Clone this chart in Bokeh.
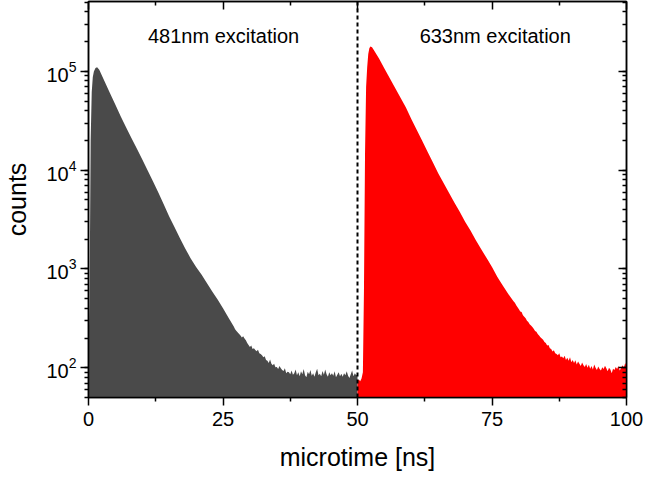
from bokeh.plotting import figure
from bokeh.models import (LinearAxis, LogAxis, FixedTicker, LogTicker, Span, Label,
                          CustomJSTickFormatter)
from bokeh.embed import file_html
from bokeh.resources import INLINE

# ---------------- data ----------------
black_time = [0.0, 0.2, 0.4, 0.6, 0.8, 1.0, 1.3, 1.6, 2.0,
              3, 4, 5, 6, 7, 8, 9, 10, 11, 12, 13, 14, 15, 16, 17, 18, 19, 20,
              21, 22, 23, 24, 25, 26, 27,
              27.25, 27.5, 27.75, 28.0, 28.25, 28.5, 28.75, 29.0, 29.25, 29.5, 29.75, 30.0,
              30.25, 30.5, 30.75, 31.0, 31.25, 31.5, 31.75, 32.0, 32.25, 32.5, 32.75, 33.0,
              33.25, 33.5, 33.75, 34.0, 34.25, 34.5, 34.75, 35.0, 35.25, 35.5, 35.75, 36.0,
              36.25, 36.5, 36.75, 37.0, 37.25, 37.5, 37.75, 38.0, 38.25, 38.5, 38.75, 39.0,
              39.25, 39.5, 39.75, 40.0, 40.25, 40.5, 40.75, 41.0, 41.25, 41.5, 41.75, 42.0,
              42.25, 42.5, 42.75, 43.0, 43.25, 43.5, 43.75, 44.0, 44.25, 44.5, 44.75, 45.0,
              45.25, 45.5, 45.75, 46.0, 46.25, 46.5, 46.75, 47.0, 47.25, 47.5, 47.75, 48.0,
              48.25, 48.5, 48.75, 49.0, 49.25, 49.5, 49.75, 50.0]
black_counts = [150, 500, 20000, 62000, 88000, 100000, 108000, 110000, 104000,
                79000, 60000, 46000, 35000, 27000, 21000, 16500, 12800, 9900, 7700, 5900,
                4500, 3400, 2650, 2050, 1600, 1280, 1050,
                880, 720, 590, 490, 400, 322, 262,
                245, 236, 228, 220, 212, 203, 208, 198, 190, 178, 170, 162,
                168, 155, 158, 151, 147, 152, 140, 138, 134, 128, 131, 120,
                118, 112, 121, 110, 106, 110, 101, 102, 97, 104, 99, 95,
                93, 99, 88, 91, 90, 86, 94, 85, 88, 96, 84, 90,
                82, 92, 86, 97, 84, 80, 91, 86, 95, 83, 88, 81,
                90, 98, 84, 87, 82, 93, 85, 96, 86, 81, 90, 84,
                88, 83, 92, 80, 85, 90, 82, 87, 81, 88, 84, 92,
                83, 79, 86, 94, 82, 88, 84, 86]

red_time = [50.0, 50.25, 50.5, 50.75, 51.0, 51.2, 51.4, 51.6, 51.8, 52.0, 52.2, 52.4, 52.7, 53.0,
            54, 55, 56, 57, 58, 59, 60, 61, 62, 63, 64, 65, 66, 67, 68, 69, 70,
            71, 72, 73, 74, 75, 76, 77, 78, 79,
            79.25, 79.5, 79.75, 80.0, 80.25, 80.5, 80.75, 81.0, 81.25, 81.5, 81.75, 82.0,
            82.25, 82.5, 82.75, 83.0, 83.25, 83.5, 83.75, 84.0, 84.25, 84.5, 84.75, 85.0,
            85.25, 85.5, 85.75, 86.0, 86.25, 86.5, 86.75, 87.0, 87.25, 87.5, 87.75, 88.0,
            88.25, 88.5, 88.75, 89.0, 89.25, 89.5, 89.75, 90.0, 90.25, 90.5, 90.75, 91.0,
            91.25, 91.5, 91.75, 92.0, 92.25, 92.5, 92.75, 93.0, 93.25, 93.5, 93.75, 94.0,
            94.25, 94.5, 94.75, 95.0, 95.25, 95.5, 95.75, 96.0, 96.25, 96.5, 96.75, 97.0,
            97.25, 97.5, 97.75, 98.0, 98.25, 98.5, 98.75, 99.0, 99.25, 99.5, 99.75, 100.0]
red_counts = [74, 76, 73, 78, 90, 600, 15000, 70000, 110000, 150000, 172000, 179000, 176000, 166000,
              135000, 107000, 85000, 68000, 54000, 43000, 33000, 25700, 20000, 15500, 12000,
              9300, 7400, 5900, 4700, 3800, 3000,
              2450, 1950, 1580, 1290, 1050, 830, 680, 560, 470,
              455, 430, 410, 390, 372, 366, 340, 328, 318, 300, 290, 275,
              268, 258, 248, 235, 232, 220, 212, 204, 198, 192, 182, 178,
              168, 170, 158, 155, 146, 150, 140, 138, 134, 140, 128, 130,
              125, 132, 120, 126, 118, 128, 114, 120, 112, 119, 108, 116,
              110, 104, 113, 106, 102, 109, 100, 107, 98, 104, 96, 108,
              100, 95, 103, 97, 94, 101, 97, 105, 99, 92, 100, 96,
              88, 98, 95, 102, 97, 104, 94, 100, 106, 99, 112, 104]

x_ticks = [0, 25, 50, 75, 100]
x_minor_ticks = [12.5, 37.5, 62.5, 87.5]
divider_at = 50
labels = ["481nm excitation", "633nm excitation"]
label_x = [25.1, 75.6]
label_y = 2.28e5

FONT = "Liberation Sans"

p = figure(width=646, height=478, x_range=(0, 100), y_range=(50, 5.1e5),
           y_axis_type="log", output_backend="svg", toolbar_location=None,
           min_border_left=88, min_border_right=20, min_border_top=1, min_border_bottom=81)
p.xgrid.visible = False
p.ygrid.visible = False
p.outline_line_color = "black"
p.outline_line_width = 1.5
p.background_fill_color = "white"

p.varea(x=black_time, y1=[1] * len(black_time), y2=black_counts, fill_color="#4a4a4a")
p.varea(x=red_time, y1=[1] * len(red_time), y2=red_counts, fill_color="#ff0000")

p.add_layout(Span(location=divider_at, dimension="height", line_color="black",
                  line_width=2, line_dash="4 3"))

for t, xx in zip(labels, label_x):
    p.add_layout(Label(x=xx, y=label_y, text=t, text_align="center", text_baseline="middle",
                       text_font=FONT, text_font_size="20px", text_color="black"))

xt = FixedTicker(ticks=x_ticks, minor_ticks=x_minor_ticks)


def style(ax, inward):
    ax.axis_line_color = "black"
    ax.axis_line_width = 1.5
    ax.major_tick_line_color = "black"
    ax.minor_tick_line_color = "black"
    ax.major_tick_line_width = 1.5
    ax.minor_tick_line_width = 1.5
    if inward:
        ax.major_tick_in, ax.major_tick_out = 8, 0
        ax.minor_tick_in, ax.minor_tick_out = 4, 0
    else:
        ax.major_tick_in, ax.major_tick_out = 0, 8
        ax.minor_tick_in, ax.minor_tick_out = 0, 4
    ax.major_label_text_font = FONT
    ax.major_label_text_font_size = "20px"
    ax.major_label_text_color = "black"
    ax.axis_label_text_font = FONT
    ax.axis_label_text_font_size = "25px"
    ax.axis_label_text_font_style = "normal"
    ax.axis_label_text_color = "black"


xa = p.xaxis[0]
xa.ticker = xt
xa.axis_label = "microtime [ns]"
style(xa, False)
xa.major_label_standoff = 6
xa.axis_label_standoff = 14

ya = p.yaxis[0]
ya.ticker = LogTicker(num_minor_ticks=10)
ya.axis_label = "counts"
style(ya, False)
ya.major_label_standoff = 4
ya.axis_label_standoff = 12

empty = CustomJSTickFormatter(code="return ''")
top = LinearAxis(ticker=xt, formatter=empty)
style(top, True)
top.major_label_text_font_size = "0px"
top.major_label_standoff = 0
top.axis_label_standoff = 0
p.add_layout(top, "above")

right = LogAxis(ticker=LogTicker(num_minor_ticks=10), formatter=empty)
style(right, True)
right.major_label_text_font_size = "0px"
right.major_label_standoff = 0
right.axis_label_standoff = 0
p.add_layout(right, "right")

open("out.html", "w").write(file_html(p, INLINE))
